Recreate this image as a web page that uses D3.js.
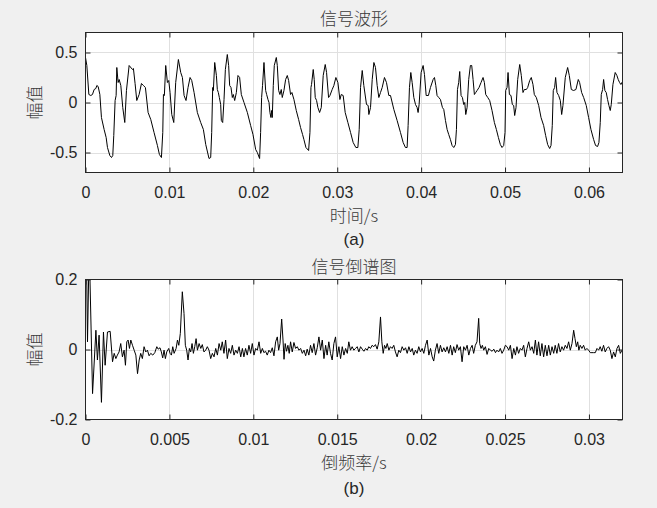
<!DOCTYPE html>
<html><head><meta charset="utf-8">
<script src="https://cdn.jsdelivr.net/npm/d3@7"></script>
<style>
html,body{margin:0;padding:0;background:#f0f0f0;}
svg{display:block;}
</style></head><body>
<svg id="chart" width="657" height="508"></svg>
<script>
// ---- data (time in ms, amplitude) ----
const signalPoints = [
[0,0.45],[0.16,0.37],[0.40,0.08],[0.63,0.07],[0.83,0.08],[1.03,0.13],[1.23,0.14],[1.35,0.17],[1.51,0.16],[1.71,0.08],[1.90,-0.15],[2.22,-0.27],[2.46,-0.35],[2.62,-0.45],[2.90,-0.53],[3.10,-0.55],[3.25,-0.53],[3.37,-0.33],[3.53,0.02],[3.65,0.07],[3.73,0.35],[3.89,0.20],[4.01,0.23],[4.21,0.17],[4.44,-0.05],[4.68,-0.20],[4.88,0.12],[5.20,0.37],[5.60,0.33],[5.71,0.34],[5.91,0.19],[6.11,0.02],[6.39,0.08],[6.67,0.19],[6.90,0.17],[7.14,0.15],[7.46,-0.10],[7.78,-0.17],[8.17,-0.30],[8.57,-0.43],[8.81,-0.52],[9.05,-0.55],[9.21,-0.30],[9.29,0.08],[9.40,0.07],[9.56,0.37],[9.76,0.20],[9.92,0.22],[10.08,0.10],[10.28,-0.12],[10.52,-0.20],[10.75,0.20],[11.07,0.43],[11.35,0.30],[11.55,0.25],[11.75,0.07],[11.98,0.02],[12.22,0.15],[12.46,0.25],[12.66,0.22],[12.94,0.10],[13.33,-0.10],[13.73,-0.20],[14.05,-0.27],[14.33,-0.42],[14.72,-0.56],[14.92,-0.55],[15.04,-0.30],[15.16,0.15],[15.24,0.12],[15.40,0.40],[15.60,0.27],[15.71,0.13],[15.83,0.10],[15.95,0.05],[16.11,-0.02],[16.19,-0.18],[16.35,-0.20],[16.51,0.03],[16.67,0.33],[16.90,0.48],[17.06,0.37],[17.18,0.17],[17.34,0.15],[17.50,0.05],[17.62,0.08],[17.78,0.02],[17.98,0.10],[18.17,0.27],[18.37,0.25],[18.57,0.08],[18.89,0.00],[19.29,-0.10],[19.68,-0.23],[19.96,-0.32],[20.28,-0.47],[20.48,-0.50],[20.75,-0.56],[20.87,-0.30],[20.99,0.05],[21.10,0.17],[21.27,0.40],
[21.47,0.12],[21.59,0.08],[21.75,0.03],[21.87,0.00],[21.98,-0.10],[22.10,-0.15],[22.18,-0.08],[22.26,-0.15],[22.38,0.17],[22.50,0.37],[22.74,0.45],[22.86,0.37],[23.02,0.12],[23.17,0.08],[23.33,0.13],[23.45,0.05],[23.65,0.12],[23.85,0.23],[24.05,0.27],[24.21,0.22],[24.44,0.08],[24.60,0.10],[24.84,0.03],[25.12,-0.08],[25.40,-0.17],[25.63,-0.25],[25.87,-0.32],[26.03,-0.37],[26.27,-0.45],[26.59,-0.48],[26.75,-0.30],[26.87,0.15],[26.94,0.18],[27.14,0.33],[27.26,0.23],[27.38,0.05],[27.54,0.02],[27.70,-0.05],[27.90,-0.10],[28.10,-0.05],[28.33,0.27],[28.57,0.38],[28.73,0.30],[28.97,0.05],[29.13,0.07],[29.40,0.13],[29.60,0.17],[29.84,0.25],[30.08,0.20],[30.32,0.03],[30.48,0.08],[30.71,0.07],[30.95,-0.10],[31.27,-0.20],[31.59,-0.30],[31.90,-0.40],[32.22,-0.45],[32.46,-0.45],[32.62,-0.27],[32.78,0.15],[32.98,0.32],[33.17,0.17],[33.49,-0.02],[33.69,-0.03],[33.77,-0.12],[33.97,-0.05],[34.17,0.23],[34.37,0.40],[34.56,0.35],[34.76,0.17],[34.96,0.05],[35.16,0.10],[35.36,0.15],[35.63,0.25],[35.87,0.20],[36.15,0.07],[36.35,0.07],[36.75,-0.07],[37.14,-0.18],[37.54,-0.30],[37.86,-0.40],[38.13,-0.45],[38.33,-0.45],[38.45,-0.23],[38.61,0.15],[38.77,0.30],[38.93,0.20],[39.13,0.05],[39.33,-0.02],[39.52,-0.05],[39.64,-0.10],[39.76,-0.02],[40.00,0.30],[40.24,0.37],[40.40,0.28],[40.60,0.07],[40.87,0.07],[41.11,0.15],[41.43,0.23],[41.59,0.25],[41.75,0.17],[41.90,0.07],[42.10,0.05],[42.30,0.03],[42.54,-0.05],
[42.70,-0.07],[42.90,-0.18],[43.10,-0.27],[43.29,-0.32],[43.49,-0.37],[43.69,-0.43],[43.89,-0.45],[44.09,-0.42],[44.21,-0.27],[44.33,0.13],[44.48,0.20],[44.60,0.31],[44.76,0.07],[44.92,0.05],[45.08,-0.02],[45.20,0.00],[45.32,-0.12],[45.48,-0.05],[45.67,0.23],[45.87,0.37],[46.03,0.37],[46.19,0.23],[46.35,0.08],[46.51,0.10],[46.67,0.12],[46.90,0.15],[47.14,0.20],[47.38,0.25],[47.54,0.20],[47.70,0.08],[47.94,0.05],[48.17,0.02],[48.45,-0.08],[48.73,-0.20],[48.97,-0.27],[49.21,-0.35],[49.44,-0.42],[49.64,-0.45],[49.84,-0.43],[50.00,-0.30],[50.08,0.12],[50.24,0.15],[50.36,0.30],[50.52,0.08],[50.71,0.07],[50.87,-0.02],[51.03,-0.03],[51.15,-0.13],[51.31,-0.05],[51.51,0.23],[51.75,0.38],[51.94,0.27],[52.14,0.10],[52.30,0.13],[52.54,0.13],[52.70,0.15],[52.94,0.22],[53.13,0.25],[53.33,0.18],[53.49,0.08],[53.73,0.05],[54.01,-0.03],[54.29,-0.15],[54.60,-0.23],[54.84,-0.33],[55.08,-0.42],[55.32,-0.46],[55.48,-0.43],[55.63,-0.23],[55.75,0.12],[55.91,0.15],[56.03,0.25],[56.19,0.10],[56.39,0.07],[56.59,0.02],[56.75,-0.12],[56.90,-0.03],[57.18,0.25],[57.46,0.35],[57.66,0.27],[57.90,0.13],[58.17,0.12],[58.45,0.13],[58.73,0.23],[58.89,0.20],[59.13,0.10],[59.37,0.05],[59.68,-0.03],[59.96,-0.15],[60.24,-0.27],[60.56,-0.37],[60.79,-0.43],[61.03,-0.44],[61.19,-0.40],[61.35,-0.20],[61.47,0.08],[61.63,0.13],[61.75,0.23],[61.90,0.12],[62.06,0.10],[62.22,0.03],[62.38,-0.03],[62.54,-0.08],[62.66,-0.02],[62.86,0.18],[63.13,0.30],[63.33,0.27],[63.49,0.23],[63.65,0.20],[63.81,0.18],[63.93,0.20],[64.00,0.19]
];
// quefrency in ms, cepstrum amplitude
const cepstrumPoints = [
[0.00,0.50],[0.12,0.022],[0.22,0.30],[0.42,-0.126],[0.62,0.055],[0.71,-0.030],[0.81,0.041],[0.95,-0.151],[1.07,0.050],[1.17,-0.045],[1.31,0.050],[1.47,0.052],[1.61,-0.035],[1.71,-0.011],[1.81,-0.026],[1.90,-0.016],[2.00,-0.007],[2.10,0.017],[2.20,-0.021],[2.30,-0.002],[2.38,-0.045],[2.46,0.022],[2.54,0.027],[2.62,0.003],[2.70,0.027],[2.80,0.012],[2.90,-0.002],[3.00,-0.016],[3.10,-0.069],[3.20,-0.030],[3.29,-0.011],[3.39,-0.026],[3.49,0.008],[3.59,-0.007],[3.69,-0.002],[3.79,-0.018],[3.89,-0.011],[4.01,-0.016],[4.13,-0.009],[4.25,0.008],[4.33,0.001],[4.44,0.005],[4.52,-0.007],[4.60,-0.024],[4.68,-0.002],[4.76,-0.026],[4.84,-0.007],[4.96,0.003],[5.04,-0.011],[5.12,-0.016],[5.20,0.008],[5.28,-0.011],[5.40,0.003],[5.48,0.027],[5.56,0.012],[5.65,0.046],[5.77,0.165],[5.87,0.103],[5.95,0.012],[6.03,-0.002],[6.11,-0.030],[6.19,0.003],[6.27,-0.007],[6.35,0.017],[6.43,-0.011],[6.51,0.008],[6.59,0.031],[6.67,-0.002],[6.77,0.017],[6.87,0.003],[6.96,0.014],[7.06,-0.007],[7.16,-0.002],[7.26,0.008],[7.36,-0.002],[7.46,-0.026],[7.56,-0.011],[7.66,-0.021],[7.76,0.003],[7.86,-0.016],[7.96,0.017],[8.06,-0.002],[8.15,0.022],[8.25,-0.011],[8.35,0.027],[8.45,-0.026],[8.55,0.003],[8.65,-0.011],[8.75,0.012],[8.85,-0.016],[8.95,-0.002],[9.05,-0.011],[9.15,0.008],[9.25,-0.021],[9.35,0.003],[9.44,-0.021],[9.54,0.003],[9.64,-0.016],[9.74,0.012],[9.84,-0.011],[9.94,0.017],[10.04,-0.016],[10.14,0.003],[10.24,-0.002],[10.34,0.022],[10.44,-0.011],[10.54,0.003],[10.63,-0.009],
[10.73,-0.005],[10.83,-0.016],[10.93,-0.002],[11.03,-0.009],[11.13,0.005],[11.23,-0.018],[11.33,0.022],[11.43,0.036],[11.51,-0.002],[11.59,0.017],[11.69,0.087],[11.77,0.027],[11.83,-0.028],[11.90,0.017],[11.98,-0.005],[12.06,0.012],[12.14,-0.011],[12.22,0.022],[12.32,-0.007],[12.42,0.020],[12.52,0.003],[12.62,0.008],[12.72,-0.002],[12.82,0.003],[12.92,-0.011],[13.02,-0.002],[13.12,-0.018],[13.21,0.001],[13.31,-0.016],[13.41,0.012],[13.51,-0.009],[13.61,0.017],[13.71,-0.016],[13.81,0.005],[13.91,0.036],[14.01,-0.002],[14.11,0.027],[14.21,-0.026],[14.31,0.012],[14.40,-0.016],[14.50,0.022],[14.60,-0.011],[14.70,-0.030],[14.80,0.017],[14.90,0.036],[15.00,-0.021],[15.10,0.008],[15.20,-0.026],[15.30,0.008],[15.40,-0.016],[15.50,0.003],[15.60,-0.011],[15.69,0.022],[15.79,-0.002],[15.89,0.008],[15.99,-0.002],[16.09,0.003],[16.19,0.008],[16.29,-0.007],[16.39,0.008],[16.49,0.001],[16.59,-0.005],[16.69,0.003],[16.79,-0.002],[16.88,0.008],[16.98,0.003],[17.08,0.012],[17.18,0.008],[17.28,0.014],[17.38,0.001],[17.48,0.022],[17.58,0.093],[17.66,0.022],[17.74,-0.011],[17.82,0.012],[17.90,0.003],[17.98,0.017],[18.08,-0.002],[18.17,0.008],[18.27,0.003],[18.37,0.012],[18.47,-0.007],[18.57,-0.021],[18.67,-0.002],[18.77,-0.009],[18.87,0.008],[18.97,-0.002],[19.07,0.005],[19.17,-0.011],[19.27,0.008],[19.37,-0.007],[19.47,0.003],[19.56,-0.016],[19.66,-0.002],[19.76,-0.011],[19.86,0.008],[19.96,-0.007],[20.06,0.003],[20.16,-0.011],[20.26,0.012],[20.36,0.027],[20.46,-0.016],[20.56,0.003],[20.66,-0.021],[20.75,-0.033],[20.85,-0.002],[20.95,0.017],[21.05,-0.011],[21.15,0.012],[21.25,-0.007],[21.35,0.005],
[21.45,-0.007],[21.55,0.008],[21.65,-0.011],[21.75,0.012],[21.85,-0.016],[21.94,0.008],[22.04,-0.009],[22.14,0.014],[22.24,-0.002],[22.34,0.008],[22.44,-0.035],[22.54,0.008],[22.64,-0.002],[22.74,0.012],[22.84,-0.016],[22.94,0.003],[23.04,0.012],[23.13,-0.011],[23.23,0.012],[23.33,0.022],[23.43,0.089],[23.49,0.017],[23.57,0.003],[23.65,0.012],[23.73,-0.002],[23.83,0.008],[23.93,-0.014],[24.03,0.003],[24.13,-0.002],[24.23,-0.005],[24.33,0.001],[24.43,-0.009],[24.52,-0.002],[24.62,-0.007],[24.72,0.003],[24.82,-0.011],[24.92,-0.002],[25.02,0.012],[25.12,0.008],[25.22,-0.002],[25.32,0.012],[25.42,-0.026],[25.52,0.003],[25.62,-0.016],[25.71,0.008],[25.81,-0.011],[25.91,0.003],[26.01,-0.002],[26.11,0.012],[26.21,-0.021],[26.31,0.003],[26.41,0.022],[26.51,-0.002],[26.61,0.008],[26.71,-0.011],[26.81,0.027],[26.90,-0.016],[27.00,0.022],[27.10,-0.018],[27.20,0.017],[27.30,-0.021],[27.40,0.012],[27.50,-0.018],[27.60,0.012],[27.70,-0.016],[27.80,0.008],[27.90,-0.011],[27.99,0.012],[28.09,-0.011],[28.19,0.017],[28.29,-0.007],[28.39,0.008],[28.49,-0.002],[28.59,0.012],[28.69,0.003],[28.79,0.022],[28.89,-0.002],[28.99,0.017],[29.09,0.055],[29.17,0.031],[29.25,0.008],[29.33,0.022],[29.40,-0.002],[29.48,0.012],[29.58,0.003],[29.68,0.012],[29.78,-0.002],[29.88,0.003],[29.98,-0.002],[30.08,-0.009],[30.18,-0.009],[30.28,-0.009],[30.38,-0.009],[30.48,0.003],[30.58,-0.002],[30.67,0.008],[30.77,-0.005],[30.87,0.012],[30.97,-0.007],[31.07,0.003],[31.17,0.008],[31.27,-0.002],[31.37,-0.026],[31.47,-0.007],[31.57,-0.021],[31.67,0.003],[31.77,0.012],[31.87,-0.011],[31.97,-0.002],[32.00,0.000]
];
const xTicksA = [0, 0.01, 0.02, 0.03, 0.04, 0.05, 0.06];
const yTicksA = [-0.5, 0, 0.5];
const xTicksB = [0, 0.005, 0.01, 0.015, 0.02, 0.025, 0.03];
const yTicksB = [-0.2, 0, 0.2];
const titleA = "信号波形", xLabelA = "时间/s", capA = "(a)";
const titleB = "信号倒谱图", xLabelB = "倒频率/s", capB = "(b)";
const yLabel = "幅值";

// ---- drawing ----
const svg = d3.select("#chart");
const TXT = "#262626";
const CJKFILL = "#3a3a3a";
const LATIN = "'Liberation Sans', Arial, sans-serif";
const CJK = "'Noto Sans CJK SC', sans-serif";
const left = 85.5, right = 622.5;

function fmt(d){ return d === 0 ? "0" : String(d); }

function panel(o) {
  const x = d3.scaleLinear().domain(o.xDomain).range([left, right]);
  const y = d3.scaleLinear().domain(o.yDomain).range([o.bottom, o.top]);
  const g = svg.append("g");
  g.append("rect").attr("x", left).attr("y", o.top).attr("width", right-left).attr("height", o.bottom-o.top).attr("fill", "#fff");
  // grid
  const grid = g.append("g").attr("stroke", "#e0e0e0").attr("stroke-width", 1);
  grid.selectAll(".gx").data(o.xTicks.filter(d => d > o.xDomain[0] && d < o.xDomain[1])).join("line")
    .attr("x1", d => Math.round(x(d)) + 0.5).attr("x2", d => Math.round(x(d)) + 0.5)
    .attr("y1", o.top).attr("y2", o.bottom);
  grid.selectAll(".gy").data(o.yTicks.filter(d => d > o.yDomain[0] && d < o.yDomain[1])).join("line")
    .attr("y1", d => Math.round(y(d)) + 0.5).attr("y2", d => Math.round(y(d)) + 0.5)
    .attr("x1", left).attr("x2", right);
  // clip + line
  const cid = "clip" + o.id;
  svg.append("clipPath").attr("id", cid).append("rect")
    .attr("x", left).attr("y", o.top).attr("width", right-left).attr("height", o.bottom-o.top);
  const line = d3.line().x(d => x(d[0] / 1000)).y(d => y(d[1]));
  g.append("path").datum(o.data).attr("clip-path", `url(#${cid})`)
    .attr("fill", "none").attr("stroke", "#000").attr("stroke-width", 1)
    .attr("stroke-linejoin", "round").attr("d", line);
  // axes
  const styleAxis = (sel, labels) => {
    sel.select(".domain").remove();
    sel.selectAll(".tick line").attr("stroke", TXT);
    sel.selectAll(".tick text").attr("fill", TXT).attr("font-family", LATIN).attr("font-size", 16);
    if (!labels) sel.selectAll(".tick text").remove();
  };
  g.append("g").attr("transform", `translate(0,${o.bottom})`)
    .call(d3.axisBottom(x).tickValues(o.xTicks).tickFormat(fmt).tickSizeInner(-5).tickSizeOuter(0).tickPadding(14.5))
    .call(s => styleAxis(s, true));
  g.append("g").attr("transform", `translate(0,${o.top})`)
    .call(d3.axisTop(x).tickValues(o.xTicks).tickSizeInner(-5).tickSizeOuter(0))
    .call(s => styleAxis(s, false));
  g.append("g").attr("transform", `translate(${left},0)`)
    .call(d3.axisLeft(y).tickValues(o.yTicks).tickFormat(fmt).tickSizeInner(-5).tickSizeOuter(0).tickPadding(8))
    .call(s => styleAxis(s, true));
  g.append("g").attr("transform", `translate(${right},0)`)
    .call(d3.axisRight(y).tickValues(o.yTicks).tickSizeInner(-5).tickSizeOuter(0))
    .call(s => styleAxis(s, false));
  // box
  g.append("rect").attr("x", left).attr("y", o.top).attr("width", right-left).attr("height", o.bottom-o.top)
    .attr("fill", "none").attr("stroke", TXT).attr("stroke-width", 1);
  // texts
  const cx = (left + right) / 2;
  const cjkText = (sel) => sel.attr("font-family", CJK).attr("font-size", 17).attr("font-weight", 300).attr("fill", CJKFILL);
  g.append("text").attr("x", cx).attr("y", o.titleY).attr("text-anchor", "middle").call(cjkText).text(o.title);
  g.append("text").attr("x", cx).attr("y", o.xLabelY).attr("text-anchor", "middle").call(cjkText).text(o.xLabel);
  g.append("text").attr("x", cx).attr("y", o.capY).attr("text-anchor", "middle")
    .attr("font-family", LATIN).attr("font-size", 17).attr("fill", TXT).text(o.cap);
  g.append("text").attr("transform", `translate(33,${(o.top + o.bottom) / 2}) rotate(-90)`)
    .attr("text-anchor", "middle").attr("dominant-baseline", "central").call(cjkText).text(yLabel);
}

panel({id: "a", data: signalPoints, xDomain: [0, 0.064], yDomain: [-0.7, 0.7],
  xTicks: xTicksA, yTicks: yTicksA, top: 32.5, bottom: 172.5,
  title: titleA, titleY: 24.5, xLabel: xLabelA, xLabelY: 222, cap: capA, capY: 244.5});
panel({id: "b", data: cepstrumPoints, xDomain: [0, 0.032], yDomain: [-0.2, 0.2],
  xTicks: xTicksB, yTicks: yTicksB, top: 279.5, bottom: 419.5,
  title: titleB, titleY: 272.5, xLabel: xLabelB, xLabelY: 469, cap: capB, capY: 493.5});
</script>
</body></html>
